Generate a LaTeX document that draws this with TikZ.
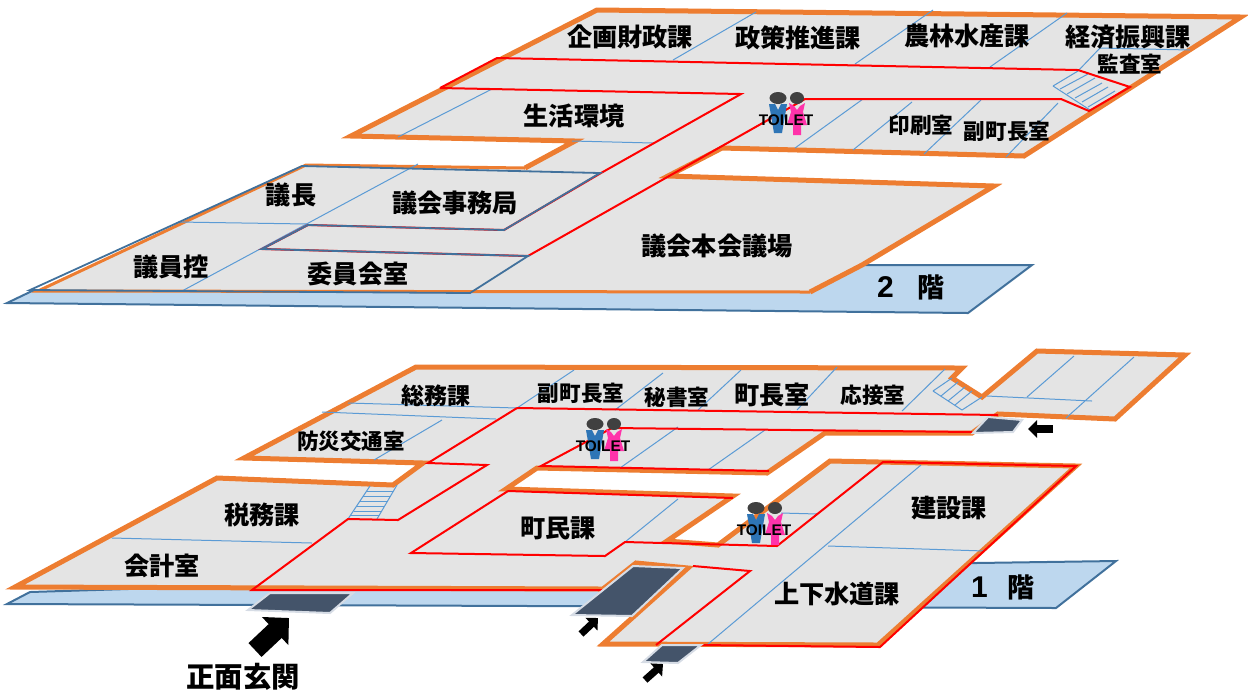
\documentclass[tikz,border=0pt]{standalone}
\usepackage{fontspec}
\setmainfont{Noto Sans CJK JP}
\newfontfamily\latinfont{Liberation Sans}
\usepackage{xcolor}
\usepackage{tikz}
\usetikzlibrary{arrows.meta}
\definecolor{wallorange}{RGB}{237, 125, 49}
\definecolor{floorgray}{RGB}{228, 228, 228}
\definecolor{baseblue}{RGB}{189, 215, 238}
\definecolor{basesteel}{RGB}{65, 113, 156}
\definecolor{roomblue}{RGB}{91, 155, 213}
\definecolor{doorslate}{RGB}{68, 84, 106}
\definecolor{doorrim}{RGB}{214, 220, 229}
\definecolor{headgray}{RGB}{64, 64, 64}
\definecolor{manblue}{RGB}{46, 117, 182}
\definecolor{womanpink}{RGB}{255, 51, 170}
\tikzstyle{basefloor} = [fill=baseblue,draw=basesteel,line width=1pt]
\tikzstyle{floorfill} = [fill=floorgray,draw=none]
\tikzstyle{wall} = [draw=wallorange,line width=2.5pt]
\tikzstyle{thinwall} = [draw=wallorange,line width=1.5pt]
\tikzstyle{corridor} = [draw=red,line width=1pt]
\tikzstyle{steel} = [draw=basesteel,line width=0.9pt]
\tikzstyle{partition} = [draw=roomblue,line width=0.5pt]
\tikzstyle{door} = [fill=doorslate,draw=doorrim,line width=1pt]
\tikzstyle{roomlabel} = [font=\bfseries\fontsize{12.6}{13}\selectfont,inner sep=0pt]
\tikzstyle{smalllabel} = [font=\bfseries\fontsize{10.8}{12}\selectfont,inner sep=0pt]
\tikzstyle{floorlabel} = [font=\bfseries\fontsize{13.5}{14}\selectfont,inner sep=0pt]
\tikzstyle{bigarrow} = [line width=9.5pt,-{Triangle[length=9.5pt,width=18.7pt]}]
\tikzstyle{smallarrow} = [line width=3.6pt,-{Triangle[length=4.5pt,width=8.5pt]}]
\newcommand{\floordigit}[1]{{\latinfont\bfseries\fontsize{15}{16}\selectfont #1}}
\tikzset{
  toiletmark/.pic={
    \fill[headgray] (0,0) ellipse (8.5 and 6);
    \fill[headgray] (19,0) ellipse (7 and 6);
    \fill[manblue] (-9,6) -- (-3,6) -- (0,12) -- (3,6) -- (9,6) -- (4,35) -- (-4,35) -- cycle;
    \fill[womanpink] (11,5) -- (16,8) -- (19,12) -- (22,8) -- (27,5) -- (25,14) -- (29,27)
      -- (23,27) -- (23,37) -- (15,37) -- (15,27) -- (9,27) -- (13,14) -- cycle;
    \node[font=\latinfont\bfseries\fontsize{7.7}{8}\selectfont,inner sep=0pt] (-label) at (8,22) {TOILET};
  }
}

\begin{document}
\begin{tikzpicture}[x=0.5pt,y=-0.5pt]
\useasboundingbox (0,0) rectangle (1248,693);

% Second floor
\draw[basefloor] (7,303) -- (32,291) -- (862,265) -- (1032,265) -- (968,313) -- cycle;
\fill[floorfill] (38,291) -- (306,165) -- (525,168) -- (575,141) -- (351,136) -- (597,10) -- (1241,17)
  -- (1024,156) -- (722,148) -- (668,176) -- (994,186) -- (862,265) -- (810,292) -- cycle;
\draw[thinwall] (810,292) -- (38,291) -- (306,165) -- (525,168);
\draw[wall] (525,168) -- (575,141) -- (351,136) -- (597,10) -- (1241,17) -- (1024,156) -- (722,148)
  -- (668,176) -- (994,186) -- (862,265) -- (810,292);
% rooms, second floor
\foreach \xa/\ya/\xb/\yb in {673/60/756/12, 855/64/933/10, 990/67/1067/13, 398/137/492/89,
    572/141/653/143, 795/148/863/99, 853/150/912/102, 924/154/981/100, 1006/157/1058/103,
    1078/71/1100/48, 1100/48/1190/50, 1053/86/1078/71, 1053/86/1090/110,
    1060/89/1088/74, 1067/94/1095/78, 1075/98/1102/83, 1082/102/1108/87, 1088/107/1115/91,
    182/291/418/164, 178/222/307/224}
  \draw[partition] (\xa,\ya) -- (\xb,\yb);
\draw[corridor] (440,88) -- (497,58) -- (1078,70) -- (1130,87) -- (1089,111) -- (1061,99) -- (805,99) -- (528,256);
\draw[corridor] (440,88) -- (741,94) -- (601,173) -- (504,230) -- (308,225) -- (262,249) -- (528,256);
\draw[steel] (30,290) -- (302,166) -- (600,173) -- (504,230) -- (308,225) -- (262,249) -- (528,256) -- (470,293) -- cycle;
\pic at (778,98) {toiletmark};

% First floor
\draw[basefloor] (7,604) -- (30,592) -- (976,563) -- (1116,561) -- (1056,608) -- cycle;
\draw[floorfill,wall] (15,587) -- (217,478) -- (393,485) -- (423,463) -- (244,458) -- (416,367) -- (962,368)
  -- (952,378) -- (982,397) -- (1037,351) -- (1185,355) -- (1115,419) -- (998,414) -- (972,433)
  -- (825,433) -- (767,473) -- (537,468) -- (506,489) -- (733,496) -- (667,541) -- (718,545)
  -- (830,461) -- (1076,466) -- (878,645) -- (603,644) -- (688,568) -- (636,563) -- (603,589) -- cycle;
% rooms, first floor
\foreach \xa/\ya/\xb/\yb in {348/403/517/408, 322/412/496/419, 442/420/374/460, 517/408/574/370,
    615/410/663/373, 698/410/741/370, 797/410/837/367, 902/411/945/369,
    933/391/952/378, 933/391/962/410, 962/410/982/397,
    941/396/958/382, 948/401/965/387, 955/405/972/391,
    1027/397/1074/356, 1066/418/1134/357, 987/396/1092/401,
    620/468/678/427, 708/470/765/430, 112/538/312/543, 370/486/348/519, 397/485/377/519,
    678/499/625/542, 781/513/818/514, 921/465/708/644, 828/546/985/551}
  \draw[partition] (\xa,\ya) -- (\xb,\yb);
\foreach \yy in {491,496,501,506,511,515}
  \draw[partition] ({370-(\yy-486)*0.66},\yy) -- ({397-(\yy-485)*0.59},\yy);
\draw[corridor] (517,408) -- (998,415);
\draw[corridor] (517,408) -- (428,463) -- (487,465) -- (398,520) -- (348,519) -- (252,590) -- (603,590);
\draw[corridor] (612,428) -- (972,432);
\draw[corridor] (612,428) -- (541,466) -- (769,471);
\draw[corridor] (508,491) -- (733,498);
\draw[corridor] (508,491) -- (411,553) -- (605,556) -- (625,542) -- (777,546) -- (883,462) -- (1076,466)
  -- (880,647) -- (700,645);
\draw[corridor] (693,566) -- (750,571) -- (656,645);
\pic at (595,424) {toiletmark};
\pic at (756,508) {toiletmark};

% Entrances
\draw[door] (270,593) -- (353,593) -- (330,613) -- (248,610) -- cycle;
\draw[door] (633,566) -- (683,568) -- (632,616) -- (572,615) -- cycle;
\draw[door] (662,645) -- (701,645) -- (678,663) -- (643,662) -- cycle;
\draw[door] (988,417) -- (1022,420) -- (1013,432) -- (973,433) -- cycle;
\coordinate (mainfrom) at (255,650);
\coordinate (mainto) at (289,618);
\coordinate (sidefrom) at (581,634);
\coordinate (sideto) at (598,618);
\coordinate (backfrom) at (645,680);
\coordinate (backto) at (663,664);
\coordinate (eastfrom) at (1053,429);
\coordinate (eastto) at (1028,429);
\draw[bigarrow] (mainfrom) -- (mainto);
\draw[smallarrow] (sidefrom) -- (sideto);
\draw[smallarrow] (backfrom) -- (backto);
\draw[smallarrow] (eastfrom) -- (eastto);

% Labels
\node[roomlabel] (kikaku) at (630,37) {企画財政課};
\node[roomlabel] (seisaku) at (798,38) {政策推進課};
\node[roomlabel] (nourin) at (967,36) {農林水産課};
\node[roomlabel] (keizai) at (1128,37) {経済振興課};
\node[smalllabel] (kansa) at (1130,64) {監査室};
\node[roomlabel] (seikatsu) at (574,116) {生活環境};
\node[smalllabel] (insatsu) at (921,125) {印刷室};
\node[smalllabel] (fukuB) at (1007,131) {副町長室};
\node[roomlabel] (gichou) at (291,195) {議長};
\node[roomlabel] (jimukyoku) at (455,203) {議会事務局};
\node[roomlabel] (giin) at (171,267) {議員控};
\node[roomlabel] (iinkai) at (358,274) {委員会室};
\node[roomlabel] (honkaigi) at (717,246) {議会本会議場};
\node[floorlabel] (floorB) at (911,287) {\floordigit{2}\hspace{12pt}階};
\node[smalllabel,font=\bfseries\fontsize{11.5}{12}\selectfont] (soumu) at (436,396) {総務課};
\node[smalllabel] (fukuA) at (581,393) {副町長室};
\node[smalllabel] (hisho) at (677,397) {秘書室};
\node[roomlabel] (chouchou) at (772,395) {町長室};
\node[smalllabel] (ousetsu) at (873,395) {応接室};
\node[smalllabel] (bousai) at (351,441) {防災交通室};
\node[roomlabel] (zeimu) at (262,515) {税務課};
\node[roomlabel] (kaikei) at (162,566) {会計室};
\node[roomlabel] (choumin) at (558,528) {町民課};
\node[roomlabel] (kensetsu) at (949,508) {建設課};
\node[roomlabel] (jouge) at (837,594) {上下水道課};
\node[floorlabel] (floorA) at (1003,587) {\floordigit{1}\hspace{10pt}階};
\node[roomlabel,font=\bfseries\fontsize{14.2}{15}\selectfont] (entrance) at (243,677) {正面玄関};
\end{tikzpicture}
\end{document}
